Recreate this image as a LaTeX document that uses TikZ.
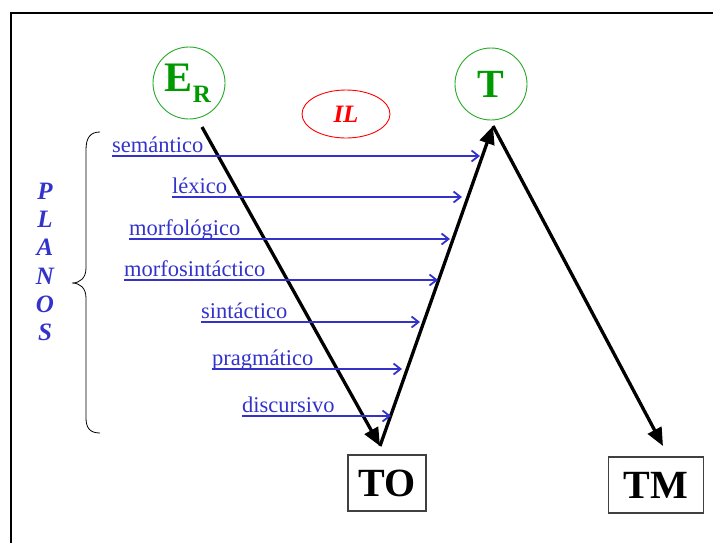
\documentclass[tikz,border=0pt]{standalone}
\usepackage{fontspec}
\setmainfont{Liberation Serif}
\usetikzlibrary{arrows.meta,shapes.geometric,calc}
\definecolor{planblue}{RGB}{51,51,204}
\definecolor{dgreen}{RGB}{0,153,0}
\definecolor{cgreen}{RGB}{40,170,40}
\tikzset{
  circ/.style={circle,draw=cgreen,line width=0.9pt,minimum size=72pt,inner sep=0pt,text=dgreen,font=\fontsize{40}{40}\selectfont\bfseries},
  tbox/.style={rectangle,draw=black!75,line width=1.1pt,minimum height=56pt,inner sep=0pt,font=\fontsize{40}{40}\selectfont\bfseries},
  plane/.style={anchor=base west,inner sep=0pt,text=planblue,font=\fontsize{22.5}{22.5}\selectfont},
  planearrow/.style={draw=planblue,line width=1.8pt,-{Straight Barb[length=7pt,width=11pt]}},
  bigarrow/.style={draw=black,line width=3.3pt,-{Triangle[length=18pt,width=15pt]}},
}
\begin{document}
\begin{tikzpicture}[x=1pt,y=-1pt]
\useasboundingbox (0,0) rectangle (713,542);
\begin{scope}
\clip (0,0) rectangle (713,542);
\draw[line width=2.5pt] (11,13) rectangle (760,600);
\end{scope}
% main nodes
\node[circ] (er) at (189,83) {\hspace{-2pt}\raisebox{2pt}{\fontsize{42}{42}\selectfont E}\raisebox{-9pt}{\fontsize{25}{25}\selectfont R}};
\node[circ] (t) at (491,84) {T};
\node[ellipse,draw=red,line width=0.9pt,minimum width=88pt,minimum height=48pt,inner sep=0pt,text=red,font=\fontsize{25}{25}\selectfont\bfseries\itshape] (il) at (346,114) {IL};
\node[tbox,minimum width=78pt] (to) at (387,483) {TO};
\node[tbox,minimum width=95pt] (tm) at (656,485) {TM};
% connector endpoints
\coordinate (erout) at (202,127);
\coordinate (toin) at (380,446);
\coordinate (tin) at (493,126);
\coordinate (tmin) at (663,446);
\draw[bigarrow] (erout) -- (toin);
\draw[bigarrow] (toin) -- (tin);
\draw[bigarrow] (tin) -- (tmin);
% planes
\foreach \nm/\txt/\xs/\xe/\yy in {
  sem/semántico/112/480/156,
  lex/léxico/172/462/197,
  mor/morfológico/129/450/239,
  msi/morfosintáctico/124/438/280,
  sin/sintáctico/201/420/322,
  pra/pragmático/212/402/369,
  dis/discursivo/242/391/416}{
  \coordinate (\nm s) at (\xs,\yy);
  \coordinate (\nm e) at (\xe,\yy);
  \node[plane] (\nm) at ($(\nm s)+(0,-4)$) {\txt};
  \draw[planearrow] (\nm s) -- (\nm e);
}
% brace
\draw[line width=0.8pt] (100,132) .. controls (90,132) and (86,138) .. (86,150) -- (86,268) .. controls (86,278) and (80,283) .. (72,283) .. controls (80,283) and (86,288) .. (86,298) -- (86,418) .. controls (86,428) and (90,433) .. (100,433);
\node[text=planblue,align=center,font=\fontsize{25}{28.2}\selectfont\bfseries\itshape,inner sep=0pt] (planos) at (45,262) {P\\L\\A\\N\\O\\S};
\end{tikzpicture}
\end{document}
